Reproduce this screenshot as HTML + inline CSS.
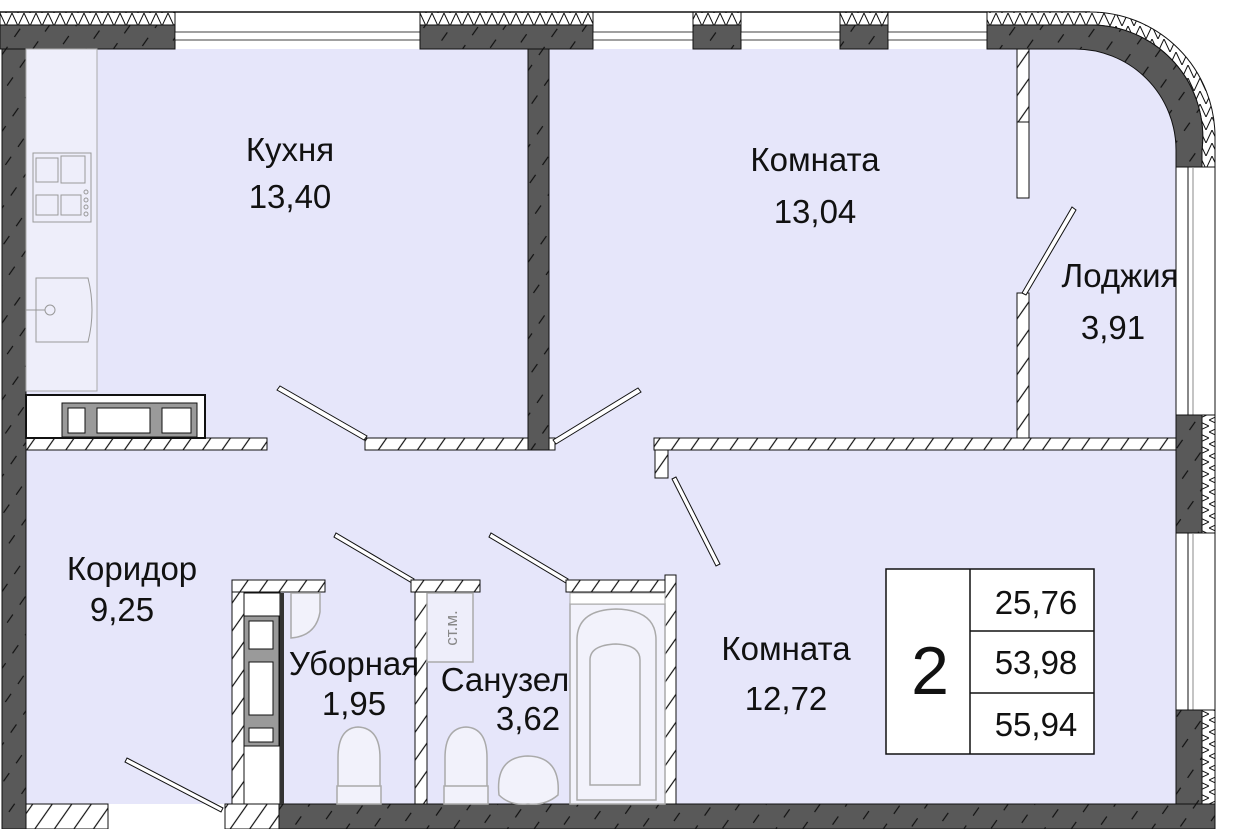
<!DOCTYPE html>
<html><head><meta charset="utf-8"><style>
html,body{margin:0;padding:0;background:#fff;}
svg{display:block;}
text{font-family:"Liberation Sans Narrow","Liberation Sans",sans-serif;fill:#111;}
</style></head><body>
<svg width="1243" height="829" viewBox="0 0 1243 829" xmlns="http://www.w3.org/2000/svg">
<defs>
<pattern id="dk" width="22" height="22" patternUnits="userSpaceOnUse" patternTransform="rotate(-55)">
<rect width="22" height="22" fill="#595959"/><line x1="0" y1="11" x2="10" y2="11" stroke="#111" stroke-width="1.2"/>
</pattern>
<pattern id="lt" width="16" height="16" patternUnits="userSpaceOnUse" patternTransform="rotate(-55)">
<rect width="16" height="16" fill="#fff"/><line x1="0" y1="8" x2="16" y2="8" stroke="#111" stroke-width="1.2"/>
</pattern>
<pattern id="xx" width="12" height="13" patternUnits="userSpaceOnUse">
<rect width="12" height="13" fill="#fff"/><path d="M0 0 L6 13 L12 0" fill="none" stroke="#111" stroke-width="1"/>
</pattern>
<pattern id="xv" width="13" height="12" patternUnits="userSpaceOnUse">
<rect width="13" height="12" fill="#fff"/><path d="M0 0 L13 6 L0 12" fill="none" stroke="#111" stroke-width="1"/>
</pattern>
</defs>
<path d="M26 49 H1075 A101 101 0 0 1 1176 150 V804 H26 Z" fill="#e6e6fa"/>
<rect x="0" y="12" width="175" height="13" fill="url(#xx)" stroke="#111"/>
<rect x="0" y="25" width="175" height="24" fill="url(#dk)" stroke="#111"/>
<rect x="175" y="32" width="245" height="8" fill="#fff" stroke="#111" stroke-width="0.8"/>
<rect x="420" y="12" width="173" height="13" fill="url(#xx)" stroke="#111"/>
<rect x="420" y="25" width="173" height="24" fill="url(#dk)" stroke="#111"/>
<rect x="593" y="32" width="100" height="8" fill="#fff" stroke="#111" stroke-width="0.8"/>
<rect x="693" y="12" width="48" height="13" fill="url(#xx)" stroke="#111"/>
<rect x="693" y="25" width="48" height="24" fill="url(#dk)" stroke="#111"/>
<rect x="741" y="32" width="99" height="8" fill="#fff" stroke="#111" stroke-width="0.8"/>
<rect x="840" y="12" width="48" height="13" fill="url(#xx)" stroke="#111"/>
<rect x="840" y="25" width="48" height="24" fill="url(#dk)" stroke="#111"/>
<rect x="888" y="32" width="99" height="8" fill="#fff" stroke="#111" stroke-width="0.8"/>
<line x1="0" y1="12" x2="1090" y2="12" stroke="#111" stroke-width="1.5"/>
<path d="M987 12 H1090 A125 125 0 0 1 1215 137 V167 H1202 V150 A112 112 0 0 0 1090 25 H987 Z" fill="url(#xx)" stroke="#111"/>
<path d="M987 25 H1090 A112 112 0 0 1 1202 150 V167 H1176 V150 A101 101 0 0 0 1075 49 H987 Z" fill="url(#dk)" stroke="#111"/>
<rect x="2" y="49" width="24" height="780" fill="url(#dk)" stroke="#111"/>
<rect x="1176" y="167" width="39" height="248" fill="#fff" stroke="#111"/>
<line x1="1188" y1="167" x2="1188" y2="415" stroke="#111"/><line x1="1193" y1="167" x2="1193" y2="415" stroke="#888"/>
<rect x="1176" y="415" width="26" height="118" fill="url(#dk)" stroke="#111"/>
<rect x="1202" y="415" width="13" height="118" fill="url(#xv)" stroke="#111"/>
<rect x="1176" y="533" width="39" height="177" fill="#fff" stroke="#111"/>
<line x1="1188" y1="533" x2="1188" y2="710" stroke="#111"/><line x1="1193" y1="533" x2="1193" y2="710" stroke="#888"/>
<rect x="1176" y="710" width="26" height="119" fill="url(#dk)" stroke="#111"/>
<rect x="1202" y="710" width="13" height="119" fill="url(#xv)" stroke="#111"/>
<rect x="279" y="804" width="936" height="25" fill="url(#dk)" stroke="#111"/>
<rect x="26" y="804" width="82" height="25" fill="url(#lt)" stroke="#111"/>
<rect x="225" y="804" width="54" height="25" fill="url(#lt)" stroke="#111"/>
<rect x="528" y="49" width="21" height="401" fill="url(#dk)" stroke="#111"/>
<rect x="26" y="438" width="241" height="12" fill="url(#lt)" stroke="#111"/>
<rect x="365" y="438" width="163" height="12" fill="url(#lt)" stroke="#111"/>
<rect x="549" y="438" width="6" height="12" fill="#fff" stroke="#111"/>
<rect x="654" y="438" width="522" height="12" fill="url(#lt)" stroke="#111"/>
<rect x="655" y="450" width="13" height="28" fill="url(#lt)" stroke="#111"/>
<rect x="1017" y="49" width="12" height="73" fill="url(#lt)" stroke="#111"/>
<rect x="1017" y="122" width="12" height="76" fill="#fff" stroke="#111"/>
<rect x="1017" y="293" width="12" height="145" fill="url(#lt)" stroke="#111"/>
<g fill="#fff" stroke="#111" stroke-width="1">
<polygon points="277,390 280,386 367,436 364,440"/>
<polygon points="553,440 556,444 641,392 638,388"/>
<polygon points="1022,293 1026,295 1076,210 1072,207"/>
<polygon points="676,477 672,479 716,566 720,564"/>
<polygon points="334,537 336,533 414,579 412,583"/>
<polygon points="489,537 491,533 568,579 566,583"/>
<polygon points="125,762 127,758 223,808 221,812"/>
</g>
<rect x="26" y="49" width="71" height="342" fill="#eeeefa" stroke="#aaa"/>
<rect x="33" y="153" width="58" height="69" fill="none" stroke="#999"/>
<g stroke="#999" fill="none"><rect x="36" y="158" width="22" height="24"/><rect x="61" y="156" width="24" height="27"/><rect x="36" y="195" width="22" height="20"/><rect x="61" y="195" width="20" height="20"/>
<circle cx="86" cy="192" r="2"/><circle cx="86" cy="200" r="2"/><circle cx="86" cy="207" r="2"/><circle cx="86" cy="214" r="2"/>
<path d="M36 278 H88 Q96 310 88 342 H36 Z"/><circle cx="50" cy="310" r="5"/><line x1="26" y1="310" x2="45" y2="310"/></g>
<rect x="26" y="395" width="179" height="43" fill="#fff" stroke="#111" stroke-width="2"/>
<rect x="62" y="403" width="135" height="34" fill="#9a9a9a" stroke="#111"/>
<rect x="68" y="408" width="17" height="25" fill="#fff" stroke="#111"/>
<rect x="97" y="408" width="53" height="25" fill="#fff" stroke="#111"/>
<rect x="162" y="408" width="29" height="25" fill="#fff" stroke="#111"/>
<rect x="232" y="580" width="12" height="224" fill="url(#lt)" stroke="#111"/>
<rect x="232" y="580" width="93" height="12" fill="url(#lt)" stroke="#111"/>
<rect x="411" y="580" width="69" height="12" fill="url(#lt)" stroke="#111"/>
<rect x="415" y="592" width="12" height="212" fill="url(#lt)" stroke="#111"/>
<rect x="566" y="580" width="110" height="12" fill="url(#lt)" stroke="#111"/>
<rect x="665" y="575" width="11" height="229" fill="url(#lt)" stroke="#111"/>
<rect x="244" y="593" width="36" height="211" fill="#fff" stroke="#111"/>
<rect x="280" y="593" width="4" height="211" fill="#333"/>
<rect x="244" y="616" width="35" height="130" fill="#9a9a9a" stroke="#111"/>
<rect x="249" y="621" width="24" height="28" fill="#fff" stroke="#111"/>
<rect x="249" y="662" width="24" height="53" fill="#fff" stroke="#111"/>
<rect x="249" y="728" width="24" height="14" fill="#fff" stroke="#111"/>
<g stroke="#aaa" fill="#f2f2fb" stroke-width="1.5">
<path d="M291 593 H320 V612 Q316 636 291 638 Z"/>
<path d="M338 800 V758 Q338 728 358 727 Q380 728 380 758 V800 Z"/><rect x="337" y="786" width="44" height="18"/>
<path d="M445 800 V758 Q445 728 466 727 Q487 728 487 758 V800 Z"/><rect x="444" y="786" width="44" height="18"/>
<path d="M499 795 Q495 757 528 756 Q561 757 558 795 Q545 806 528 804 Q510 806 499 795 Z"/>
<rect x="570" y="604" width="95" height="200"/>
<path d="M577 800 V640 Q577 610 616 609 Q656 610 656 640 V800 Z"/>
<path d="M590 785 V660 Q590 645 616 644 Q640 645 640 660 V785 Z"/>
<rect x="427" y="593" width="46" height="69" fill="#eeeefa"/>
</g>
<rect x="570" y="593" width="95" height="11" fill="#fff" stroke="#aaa"/>
<text x="0" y="0" font-size="17" transform="translate(457,628) rotate(-90)" text-anchor="middle" style="fill:#888">ст.м.</text>
<g font-size="33" text-anchor="middle">
<text x="290" y="161">Кухня</text><text x="290" y="208">13,40</text>
<text x="815" y="171">Комната</text><text x="815" y="223">13,04</text>
<text x="1120" y="287">Лоджия</text><text x="1113" y="339">3,91</text>
<text x="132" y="580">Коридор</text><text x="122" y="621">9,25</text>
<text x="354" y="675">Уборная</text><text x="354" y="715">1,95</text>
<text x="505" y="691">Санузел</text><text x="528" y="730">3,62</text>
<text x="786" y="660">Комната</text><text x="786" y="710">12,72</text>
</g>
<rect x="886" y="569" width="208" height="185" fill="#fff" stroke="#111" stroke-width="1.5"/>
<line x1="970" y1="569" x2="970" y2="754" stroke="#111" stroke-width="1.5"/>
<line x1="970" y1="631" x2="1094" y2="631" stroke="#111" stroke-width="1.5"/>
<line x1="970" y1="693" x2="1094" y2="693" stroke="#111" stroke-width="1.5"/>
<text x="930" y="694" font-size="68" text-anchor="middle">2</text>
<g font-size="33" text-anchor="middle"><text x="1036" y="614">25,76</text><text x="1036" y="674">53,98</text><text x="1036" y="736">55,94</text></g>
</svg>
</body></html>
